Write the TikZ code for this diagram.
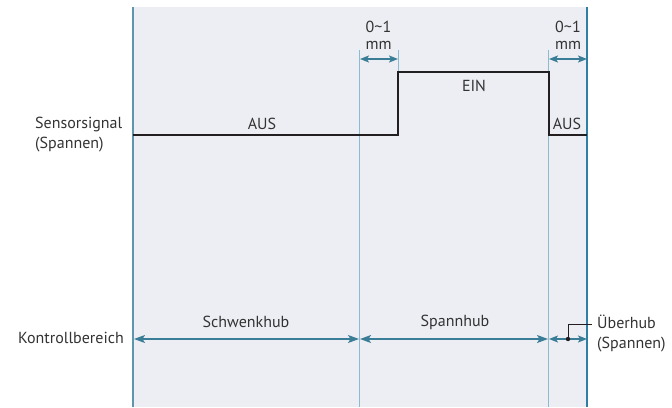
\documentclass[tikz,border=0pt]{standalone}
\usepackage{fontspec}
\setmainfont{PT Sans}
\usetikzlibrary{arrows.meta}
\definecolor{bgc}{HTML}{EDEEF4}
\definecolor{leftc}{HTML}{5E96B0}
\definecolor{thinc}{HTML}{8CBBD0}
\definecolor{rightc}{HTML}{2F7FA5}
\definecolor{arrc}{HTML}{3A7D97}
\definecolor{txtc}{HTML}{333333}
\definecolor{sigc}{HTML}{231F20}
\tikzset{
  lbl/.style={text=txtc, font=\fontsize{16}{20}\selectfont, inner sep=0pt},
  thinline/.style={draw=thinc, line width=1pt},
  dimarrow/.style={draw=arrc, line width=1.3pt, {Stealth[length=11pt,width=8pt,inset=2.5pt]}-{Stealth[length=11pt,width=8pt,inset=2.5pt]}},
  smallarrow/.style={draw=arrc, line width=1.3pt, {Stealth[length=9pt,width=7pt,inset=2pt]}-{Stealth[length=9pt,width=7pt,inset=2pt]}},
  signal/.style={draw=sigc, line width=2.4pt, line join=miter},
}
\begin{document}
\begin{tikzpicture}[x=1pt,y=-1pt]
\useasboundingbox (0,0) rectangle (672,407);
\fill[bgc] (133,7) rectangle (587,407);
% vertical lines
\coordinate (v1t) at (359.5,50); \coordinate (v1b) at (359.5,407);
\coordinate (v2t) at (398,50); \coordinate (v2b) at (398,72);
\coordinate (v3t) at (548.5,50); \coordinate (v3b) at (548.5,407);
\draw[thinline] (v1t) -- (v1b);
\draw[thinline] (v2t) -- (v2b);
\draw[thinline] (v3t) -- (v3b);
\coordinate (lt) at (133,7); \coordinate (lb) at (133,407);
\coordinate (rt) at (587,7); \coordinate (rb) at (587,407);
\draw[leftc, line width=2pt] (lt) -- (lb);
\draw[rightc, line width=1.6pt] (rt) -- (rb);
% signal
\coordinate (s0) at (133,135); \coordinate (s1) at (398,135);
\coordinate (s2) at (398,72); \coordinate (s3) at (549,72);
\coordinate (s4) at (549,135); \coordinate (s5) at (587,135);
\draw[signal] (s0) -- (s1) -- (s2) -- (s3) -- (s4) -- (s5);
% top dimensions
\coordinate (d1a) at (360,59); \coordinate (d1b) at (398,59);
\coordinate (d2a) at (549,59); \coordinate (d2b) at (587,59);
\draw[smallarrow] (d1a) -- (d1b);
\draw[smallarrow] (d2a) -- (d2b);
\node[lbl, align=center, font=\fontsize{16}{17}\selectfont] (dim1) at (378.5,35) {0\char"007E 1\\mm};
\node[lbl, align=center, font=\fontsize{16}{17}\selectfont] (dim2) at (568,35) {0\char"007E 1\\mm};
% signal labels
\node[lbl] (aus1) at (262,124) {AUS};
\node[lbl] (ein) at (474,86) {EIN};
\node[lbl] (aus2) at (567,124) {AUS};
\node[lbl, align=left, anchor=west] (sens) at (35,135) {Sensorsignal\\(Spannen)};
% control range
\node[lbl, anchor=east] (kon) at (124,338) {Kontrollbereich};
\coordinate (k0) at (134,339); \coordinate (k1) at (359,339);
\coordinate (k2) at (360,339); \coordinate (k3) at (548,339);
\coordinate (k4) at (549,339); \coordinate (k5) at (587,339);
\draw[dimarrow] (k0) -- (k1);
\draw[dimarrow] (k2) -- (k3);
\draw[smallarrow] (k4) -- (k5);
\node[lbl] (schw) at (246,322) {Schwenkhub};
\node[lbl] (span) at (455,322) {Spannhub};
\fill[sigc] (568,339) circle (2.2pt);
\coordinate (dot) at (568,339);
\coordinate (lead) at (568,324.5);
\coordinate (leadend) at (592,324.5);
\node[lbl, align=left, anchor=west] (ueb) at (597,334) {Überhub\\(Spannen)};
\draw[sigc, line width=1pt] (dot) -- (lead) -- (leadend);
\end{tikzpicture}
\end{document}
